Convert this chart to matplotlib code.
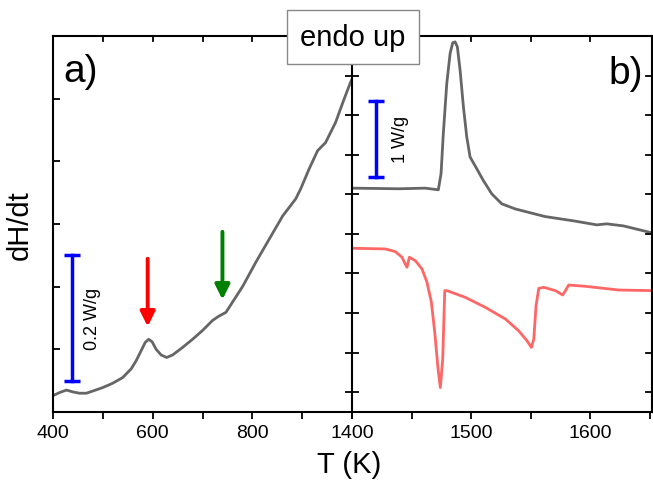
import matplotlib
matplotlib.use("Agg")
from matplotlib import pyplot as plt

plt.rcParams['font.family'] = ['Liberation Sans', 'DejaVu Sans']

# Panel a: low-temperature DSC trace
T_a = [400, 413, 427, 440, 453, 467, 480, 500, 520, 540, 557, 567, 577, 585, 592,
       599, 607, 617, 628, 640, 660, 680, 700, 720, 733, 747, 760, 781, 807, 834,
       861, 887, 897, 914, 931, 947, 967, 984, 997, 1000]
dH_a = [0.026, 0.031, 0.035, 0.032, 0.030, 0.030, 0.0335, 0.039, 0.046, 0.055, 0.069,
        0.082, 0.098, 0.111, 0.116, 0.112, 0.100, 0.091, 0.087, 0.091, 0.103, 0.116,
        0.130, 0.146, 0.153, 0.159, 0.175, 0.201, 0.239, 0.276, 0.313, 0.340, 0.356,
        0.388, 0.417, 0.430, 0.462, 0.499, 0.526, 0.531]

# Panel b: heating (gray) and cooling (red) traces
T_heat = [1400, 1440, 1461.3, 1472.5, 1474.8, 1476.7, 1479.6, 1482.4, 1484.6, 1486.6,
          1488.5, 1490.8, 1493.6, 1496.4, 1499.2, 1504.8, 1510.3, 1517.4, 1525.8, 1537,
          1551, 1562.2, 1586, 1605.6, 1614, 1628, 1652]
dH_heat = [2.578, 2.570, 2.578, 2.557, 2.76, 3.266, 3.899, 4.278, 4.414, 4.426,
           4.363, 4.067, 3.604, 3.224, 2.971, 2.823, 2.675, 2.506, 2.380, 2.316,
           2.262, 2.219, 2.165, 2.114, 2.127, 2.101, 2.013]

T_cool = [1400, 1428, 1436.4, 1442, 1444.3, 1446.2, 1448.2, 1453.2, 1458.8, 1463, 1466.7,
          1469.5, 1472.3, 1474.2, 1476.2, 1477.9, 1479.8, 1495.2, 1512, 1528.9, 1540, 1547,
          1550.7, 1552.7, 1554.6, 1556.9, 1561, 1570.9, 1577, 1579.3, 1582, 1596, 1624, 1652]
dH_cool = [1.819, 1.810, 1.776, 1.705, 1.633, 1.578, 1.705, 1.662, 1.557, 1.388, 1.135,
           0.756, 0.291, 0.059, 0.418, 1.283, 1.283, 1.198, 1.072, 0.924, 0.776, 0.650,
           0.566, 0.671, 1.093, 1.312, 1.325, 1.283, 1.228, 1.283, 1.354, 1.338, 1.291, 1.283]

# scale bars and arrows
bar_a = (438, 0.05, 0.25)
bar_b = (1420, 2.72, 3.68)
arrow_red = (590, 0.249, 0.132)
arrow_green = (740, 0.292, 0.175)

fig = plt.figure(figsize=(6.53, 4.81), dpi=100)
ax1 = fig.add_axes([53/653, 68/481, 299/653, 376/481])
ax2 = fig.add_axes([352/653, 68/481, 300/653, 376/481])

ax1.plot(T_a, dH_a, color='#666666', lw=2)
ax1.set_xlim(400, 1000)
ax1.set_ylim(0, 0.6)
ax1.set_xticks(range(400, 1001, 100))
ax1.set_xticklabels(['400', '', '600', '', '800', '', ''])
ax1.set_yticks([0.1, 0.2, 0.3, 0.4, 0.5])
ax1.set_yticklabels([])
ax1.tick_params(axis='x', direction='out', length=5, width=1.3, labelsize=14, top=False)
ax1.tick_params(axis='y', direction='in', length=5, width=1.3, right=False)
ax1.spines['right'].set_visible(False)
for t in range(500, 1000, 100):
    ax1.plot([t, t], [0.6, 0.592], color='black', lw=1.3, clip_on=False)

ax1.plot([bar_a[0]] * 2, bar_a[1:], color='blue', lw=2.5, marker='_', ms=11, mew=2.5)
ax1.text(bar_a[0] + 42, 0.15, '0.2 W/g', rotation=90, fontsize=13, ha='center', va='center')
ax1.annotate('', xy=(arrow_red[0], arrow_red[2]), xytext=(arrow_red[0], arrow_red[1]),
             arrowprops=dict(arrowstyle='-|>', color='red', lw=2.8, mutation_scale=22))
ax1.annotate('', xy=(arrow_green[0], arrow_green[2]), xytext=(arrow_green[0], arrow_green[1]),
             arrowprops=dict(arrowstyle='-|>', color='green', lw=2.8, mutation_scale=22))
ax1.text(0.035, 0.955, 'a)', transform=ax1.transAxes, fontsize=28, ha='left', va='top')
ax1.set_ylabel('dH/dt', fontsize=21, labelpad=10)

ax2.plot(T_heat, dH_heat, color='#666666', lw=2)
ax2.plot(T_cool, dH_cool, color='#ff6666', lw=2)
ax2.set_xlim(1400, 1652)
ax2.set_ylim(-0.25, 4.5)
ax2.set_xticks([1400, 1450, 1500, 1550, 1600, 1650])
ax2.set_xticklabels(['1400', '', '1500', '', '1600', ''])
ax2.set_yticks([i * 0.5 for i in range(9)])
ax2.set_yticklabels([])
ax2.tick_params(axis='x', direction='out', length=5, width=1.3, labelsize=14)
ax2.tick_params(axis='y', which='both', direction='inout', length=10, width=1.3, left=True, right=False)
for v in [i * 0.5 for i in range(9)]:
    ax2.plot([1652, 1647], [v, v], color='black', lw=1.3, clip_on=False)
for t in [1450, 1500, 1550, 1600]:
    ax2.plot([t, t], [4.5, 4.44], color='black', lw=1.3, clip_on=False)

ax2.plot([bar_b[0]] * 2, bar_b[1:], color='blue', lw=2.5, marker='_', ms=11, mew=2.5)
ax2.text(bar_b[0] + 21, 3.2, '1 W/g', rotation=90, fontsize=13, ha='center', va='center')
ax2.text(0.97, 0.95, 'b)', transform=ax2.transAxes, fontsize=28, ha='right', va='top')

for ax in (ax1, ax2):
    for s in ax.spines.values():
        s.set_linewidth(1.5)

fig.text(349/653, 16/481, 'T (K)', fontsize=21, ha='center', va='center')
fig.text(353/653, 1 - 38/481, 'endo up', fontsize=21, ha='center', va='center',
         bbox=dict(boxstyle='square,pad=0.45', facecolor='white', edgecolor='#888888', lw=1))

fig.savefig('out.png', dpi=100)
